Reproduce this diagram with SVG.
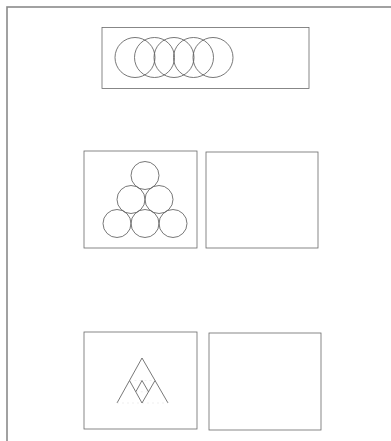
<svg xmlns="http://www.w3.org/2000/svg" width="391" height="441" viewBox="0 0 391 441">
<style>
.frame{fill:none;stroke:#8a8a8a;stroke-width:1.6}
.box{fill:none;stroke:#6a6a6a;stroke-width:0.8}
.sh{fill:none;stroke:#555;stroke-width:0.8}
.faint{fill:none;stroke:#ddd;stroke-width:0.5;stroke-dasharray:2 3}
</style>
<rect width="391" height="441" fill="#fff"/>
<rect class="frame" x="7" y="7" width="420" height="460"/>
<g id="panel-top">
<rect class="box" x="102" y="27.5" width="207" height="61"/>
<circle class="sh" cx="135" cy="57.5" r="20"/>
<circle class="sh" cx="154.5" cy="57.5" r="20"/>
<circle class="sh" cx="174" cy="57.5" r="20"/>
<circle class="sh" cx="193.5" cy="57.5" r="20"/>
<circle class="sh" cx="213" cy="57.5" r="20"/>
</g>
<g id="panel-mid-left">
<rect class="box" x="84" y="151" width="113" height="97"/>
<circle class="sh" cx="145" cy="175.5" r="14"/>
<circle class="sh" cx="131" cy="199.5" r="14"/>
<circle class="sh" cx="159" cy="199.5" r="14"/>
<circle class="sh" cx="117" cy="223.5" r="14"/>
<circle class="sh" cx="145" cy="223.5" r="14"/>
<circle class="sh" cx="173" cy="223.5" r="14"/>
</g>
<g id="panel-mid-right">
<rect class="box" x="206" y="152" width="112" height="96"/>
</g>
<g id="panel-bottom-left">
<rect class="box" x="84" y="332" width="113" height="97"/>
<polyline class="sh" points="117,403 142,358 168,403"/>
<line class="faint" x1="117" y1="403" x2="168" y2="403"/>
<polyline class="sh" points="129.5,380.5 142,403 155,380.5"/>
<line class="faint" x1="129.5" y1="380.5" x2="155" y2="380.5"/>
<polyline class="sh" points="135.8,391.8 142,380.5 148.5,391.8"/>
<line class="faint" x1="135.8" y1="391.8" x2="148.5" y2="391.8"/>
</g>
<g id="panel-bottom-right">
<rect class="box" x="209" y="333" width="112" height="97"/>
</g>
</svg>
